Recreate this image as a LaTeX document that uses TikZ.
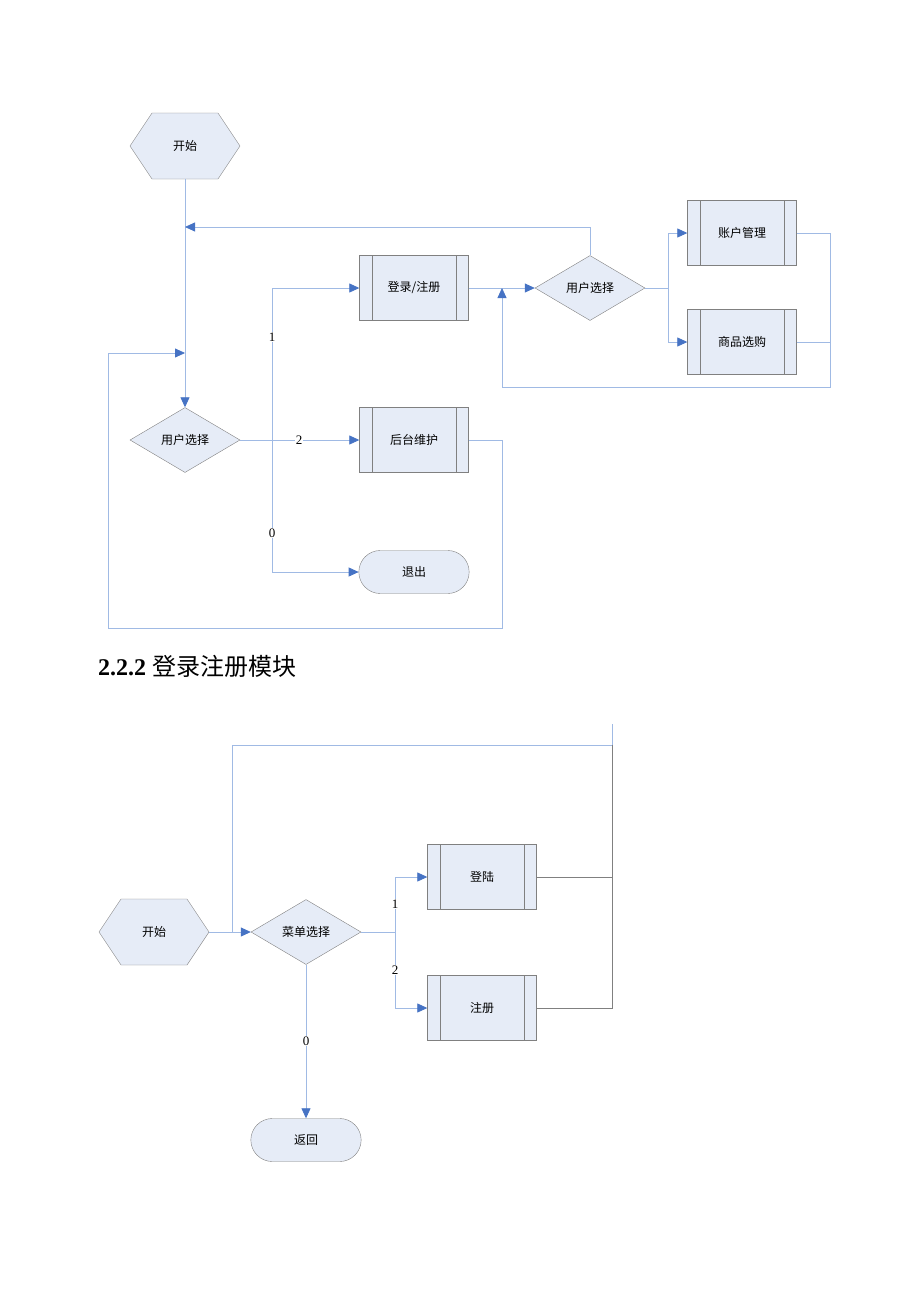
\documentclass[tikz,border=0pt]{standalone}
\usepackage{fontspec}
\setmainfont{Liberation Serif}
\newfontfamily\cjk{Noto Sans CJK SC}
\usetikzlibrary{shapes.geometric,shapes.misc,arrows.meta}

\definecolor{boxfill}{RGB}{230,236,247}
\definecolor{boxline}{RGB}{128,128,128}
\definecolor{flowline}{RGB}{160,186,228}
\definecolor{tipblue}{RGB}{70,115,196}

\tikzset{
  txt/.style={font=\cjk\fontsize{12}{14}\selectfont},
  procbox/.style={txt, draw=boxline, fill=boxfill, minimum width=109pt, minimum height=65pt},
  choice/.style={txt, diamond, draw=boxline, fill=boxfill, minimum width=110pt, minimum height=65pt, inner sep=0pt},
  endbox/.style={txt, rounded rectangle, draw=boxline, fill=boxfill, minimum width=117pt, minimum height=43pt},
  hexbox/.style={txt, minimum width=110pt, minimum height=66pt},
  flow/.style={draw=flowline, line width=0.8pt},
  arr/.style={flow, -{Triangle[color=tipblue, length=10pt, width=9pt]}},
  num/.style={fill=white, inner sep=1pt, font=\fontsize{13}{15}\selectfont},
}

\begin{document}
\begin{tikzpicture}[x=1pt, y=-1pt]
        \useasboundingbox (0,0) rectangle (920,1302);

        % 主流程
        \draw[draw=boxline, fill=boxfill] (130,146) -- (152,113) -- (218,113) -- (240,146) -- (218,179) -- (152,179) -- cycle;
        \node[hexbox] (s1) at (185,146) {开始};
        \node[choice] (d1) at (185,440) {用户选择};
        \node[procbox] (login) at (414,288) {登录/注册};
        \node[procbox] (admin) at (414,440) {后台维护};
        \node[endbox] (quit) at (414,572) {退出};
        \node[choice] (d2) at (590,288) {用户选择};
        \node[procbox] (acct) at (742,233) {账户管理};
        \node[procbox] (shop) at (742,342) {商品选购};

        \coordinate (j1) at (185,227);
        \coordinate (j2) at (185,353);
        \coordinate (j3) at (502,288);
        \coordinate (f1) at (272,440);
        \coordinate (f3) at (668,288);

        % 线
        \draw[arr] (s1.south) -- (d1.north);
        \draw[flow] (d1.east) -- (f1);
        \draw[arr] (f1) |- (login.west);
        \draw[arr] (f1) -- (admin.west);
        \draw[arr] (f1) |- (quit.west);
        \node[num] at (272,337) {1};
        \node[num] at (299,440) {2};
        \node[num] at (272,533) {0};

        \draw[arr] (admin.east) -| (502,628) -| (108,353) -- (j2);
        \draw[arr] (login.east) -- (d2.west);
        \draw[arr] (d2.north) |- (j1);
        \draw[flow] (d2.east) -- (f3);
        \draw[arr] (f3) |- (acct.west);
        \draw[arr] (f3) |- (shop.west);
        \draw[arr] (acct.east) -| (830,387) -| (j3);
        \draw[flow] (shop.east) -- (830,342);

        % 标题
        \node[anchor=base west, inner sep=0pt, font=\fontsize{24}{28}\selectfont] (title) at (98,675) {\textbf{2.2.2} {\cjk 登录注册模块}};

        % 登录注册模块
        \draw[draw=boxline, fill=boxfill] (99,932) -- (121,899) -- (187,899) -- (209,932) -- (187,965) -- (121,965) -- cycle;
        \node[hexbox] (s2) at (154,932) {开始};
        \node[choice] (menu) at (306,932) {菜单选择};
        \node[procbox] (signin) at (482,877) {登陆};
        \node[procbox] (signup) at (482,1008) {注册};
        \node[endbox] (back) at (306,1140) {返回};

        \coordinate (f2) at (232,932);
        \coordinate (f4) at (395,932);
        \coordinate (t1) at (612,724);
        \coordinate (t2) at (612,745);

        \draw[arr] (s2.east) -- (menu.west);
        \draw[flow] (f2) |- (t2);
        \draw[flow] (t1) -- (t2);
        \draw[draw=boxline, line width=0.8pt] (t2) |- (signup.east);
        \draw[draw=boxline, line width=0.8pt] (signin.east) -- (612,877);
        \draw[flow] (menu.east) -- (f4);
        \draw[arr] (f4) |- (signin.west);
        \draw[arr] (f4) |- (signup.west);
        \draw[arr] (menu.south) -- (back.north);
        \node[num] at (395,904) {1};
        \node[num] at (395,970) {2};
        \node[num] at (306,1041) {0};

        \foreach \b in {login,admin,acct,shop,signin,signup}
        {
            \draw[boxline] ([xshift=13pt]\b.north west) -- ([xshift=13pt]\b.south west);
            \draw[boxline] ([xshift=-13pt]\b.north east) -- ([xshift=-13pt]\b.south east);
        }
    \end{tikzpicture}
\end{document}
